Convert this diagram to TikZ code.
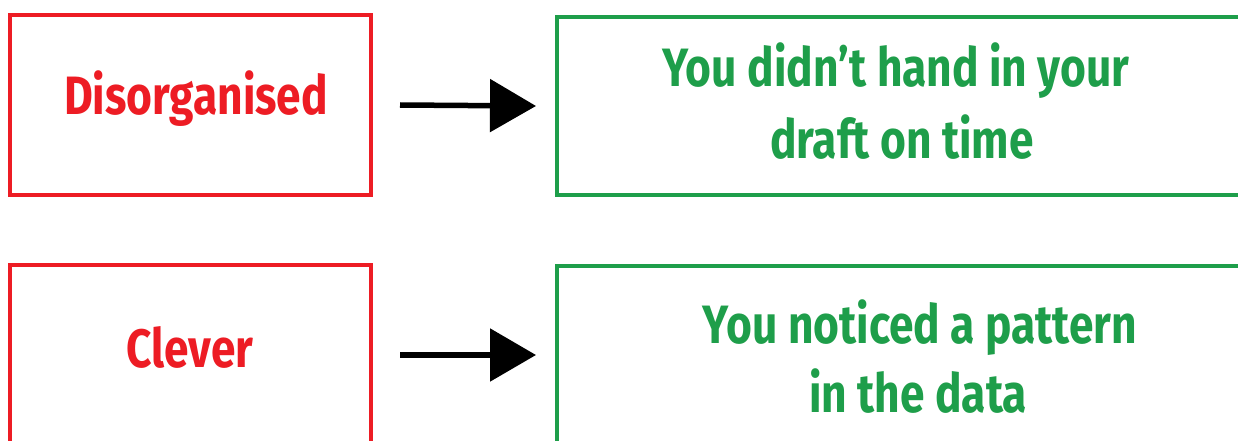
\documentclass[tikz,border=0pt]{standalone}
\usepackage{fontspec}
\newfontfamily\hand{Fira Sans}[FakeStretch=0.82]
\usetikzlibrary{arrows.meta}
\definecolor{rd}{HTML}{ED1C24}
\definecolor{gn}{HTML}{1E9E4A}
\tikzset{
  redbox/.style={draw=rd, line width=3.5pt, minimum width=361pt, minimum height=180pt, outer sep=0pt, inner sep=0pt},
  greenbox/.style={draw=gn, line width=3.5pt, minimum width=693pt, minimum height=178pt, outer sep=0pt, inner sep=0pt},
  redtxt/.style={text=rd, font=\hand\bfseries\fontsize{54}{71}\selectfont, anchor=base, inner sep=0pt},
  greentxt/.style={text=gn, font=\hand\bfseries\fontsize{54}{71}\selectfont, anchor=base, inner sep=0pt},
  conn/.style={line width=5.5pt, -{Triangle[length=46pt,width=52pt]}}
}
\begin{document}
\begin{tikzpicture}[x=1pt,y=-1pt]
\useasboundingbox (0,0) rectangle (1238,441);
\fill[white] (0,0) rectangle (1238,441);
\clip (0,0) rectangle (1238,441);
\node[redbox] (r1) at (190.5,105) {};
\node[redbox] (r2) at (190.5,355) {};
\node[greenbox] (g1) at (903.5,106) {};
\node[greenbox] (g2) at (903.5,355) {};
\node[redtxt] (t1) at (196,114) {Disorganised};
\node[redtxt] (t2) at (190,367) {Clever};
\node[greentxt] (t3) at (896,87) {You didn’t hand in your};
\node[greentxt] (t4) at (902,158) {draft on time};
\node[greentxt] (t5) at (920,343) {You noticed a pattern};
\node[greentxt] (t6) at (918,412) {in the data};
\draw[conn] ([xshift=29pt]r1.east) -- ([xshift=-21pt]g1.west);
\draw[conn] ([xshift=29pt]r2.east) -- ([xshift=-21pt]g2.west);
\end{tikzpicture}
\end{document}
